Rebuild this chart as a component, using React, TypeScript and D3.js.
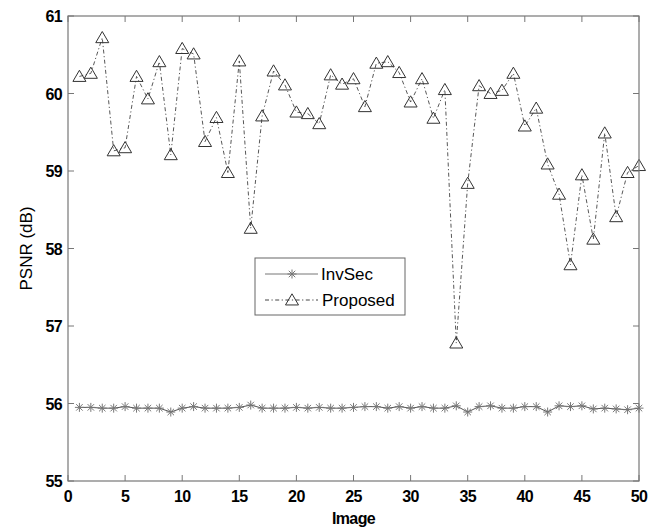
import React from "react";
import * as d3 from "d3";

const images = d3.range(1, 51);
const invSec = [55.95, 55.95, 55.94, 55.94, 55.96, 55.94, 55.94, 55.94, 55.89, 55.94,
  55.96, 55.94, 55.94, 55.94, 55.95, 55.98, 55.94, 55.94, 55.94, 55.95,
  55.94, 55.95, 55.94, 55.94, 55.95, 55.96, 55.96, 55.94, 55.96, 55.94,
  55.96, 55.94, 55.94, 55.97, 55.89, 55.96, 55.97, 55.94, 55.94, 55.96,
  55.96, 55.89, 55.97, 55.96, 55.97, 55.93, 55.94, 55.93, 55.92, 55.94];
const proposed = [60.22, 60.26, 60.72, 59.26, 59.30, 60.22, 59.93, 60.41, 59.21, 60.58,
  60.51, 59.38, 59.69, 58.98, 60.42, 58.26, 59.71, 60.29, 60.11, 59.76,
  59.74, 59.61, 60.24, 60.12, 60.19, 59.83, 60.39, 60.41, 60.27, 59.89,
  60.19, 59.68, 60.05, 56.78, 58.84, 60.10, 60.00, 60.04, 60.26, 59.58,
  59.81, 59.09, 58.70, 57.79, 58.95, 58.12, 59.49, 58.41, 58.98, 59.07];
const xTicks = [0, 5, 10, 15, 20, 25, 30, 35, 40, 45, 50];
const yTicks = [55, 56, 57, 58, 59, 60, 61];
const seriesNames = ["InvSec", "Proposed"];

const W = 657, H = 530;
const L = 68, R = 639, T = 16, B = 481;
const DASH = "4,2.5,1.2,2.5";

function Tri({ x, y }: { x: number; y: number }) {
  const s = 6.2;
  return (
    <path
      d={`M${x},${y - s}L${x + s * 1.05},${y + s * 0.8}L${x - s * 1.05},${y + s * 0.8}Z`}
      fill="none" stroke="#333" strokeWidth={1}
    />
  );
}

function Star({ x, y }: { x: number; y: number }) {
  const r = 4.5;
  const d = r * 0.72;
  return (
    <g stroke="#777" strokeWidth={1}>
      <line x1={x - r} y1={y} x2={x + r} y2={y} />
      <line x1={x} y1={y - r} x2={x} y2={y + r} />
      <line x1={x - d} y1={y - d} x2={x + d} y2={y + d} />
      <line x1={x - d} y1={y + d} x2={x + d} y2={y - d} />
    </g>
  );
}

export default function App() {
  const x = d3.scaleLinear().domain([0, 50]).range([L, R]);
  const y = d3.scaleLinear().domain([55, 61]).range([B, T]);
  const line = d3.line<number>().x((_, i) => x(images[i])).y((v) => y(v));
  const font = "Arial, 'Liberation Sans', sans-serif";
  const legX = 255, legY = 258, legW = 150, legH = 57;
  return (
    <svg width={W} height={H} style={{ position: "absolute", left: 0, top: 0 }}>
      <rect width={W} height={H} fill="#fff" />
      <path d={line(invSec) || ""} fill="none" stroke="#555" strokeWidth={1} />
      {invSec.map((v, i) => <Star key={"s" + i} x={x(images[i])} y={y(v)} />)}
      <path d={line(proposed) || ""} fill="none" stroke="#444" strokeWidth={0.9} strokeDasharray={DASH} />
      {proposed.map((v, i) => <Tri key={"t" + i} x={x(images[i])} y={y(v)} />)}
      <rect x={L} y={T} width={R - L} height={B - T} fill="none" stroke="#777" strokeWidth={1.2} />
      {xTicks.map((t) => (
        <g key={"x" + t}>
          <line x1={x(t)} x2={x(t)} y1={B} y2={B - 6} stroke="#777" />
          <line x1={x(t)} x2={x(t)} y1={T} y2={T + 6} stroke="#777" />
          <text x={x(t)} y={B + 21} textAnchor="middle" fontFamily={font} fontWeight="bold" fontSize={16} letterSpacing={-0.6}>{t}</text>
        </g>
      ))}
      {yTicks.map((t) => (
        <g key={"y" + t}>
          <line x1={L} x2={L + 6} y1={y(t)} y2={y(t)} stroke="#777" />
          <line x1={R} x2={R - 6} y1={y(t)} y2={y(t)} stroke="#777" />
          <text x={L - 6} y={y(t) + 6} textAnchor="end" fontFamily={font} fontWeight="bold" fontSize={16} letterSpacing={-0.6}>{t}</text>
        </g>
      ))}
      <text x={(L + R) / 2} y={524} textAnchor="middle" fontFamily={font} fontWeight="bold" fontSize={16} letterSpacing={-0.6}>Image</text>
      <text transform={`translate(32,${(T + B) / 2}) rotate(-90)`} textAnchor="middle" fontFamily={font} fontSize={17}>PSNR (dB)</text>
      <rect x={legX} y={legY} width={legW} height={legH} fill="#fff" stroke="#666" strokeWidth={1} />
      <line x1={265} x2={318} y1={274} y2={274} stroke="#777" />
      <Star x={292} y={274} />
      <text x={321} y={280} fontFamily={font} fontSize={17}>{seriesNames[0]}</text>
      <line x1={265} x2={318} y1={300} y2={300} stroke="#444" strokeDasharray={DASH} />
      <Tri x={292} y={300} />
      <text x={322} y={306} fontFamily={font} fontSize={17}>{seriesNames[1]}</text>
    </svg>
  );
}
